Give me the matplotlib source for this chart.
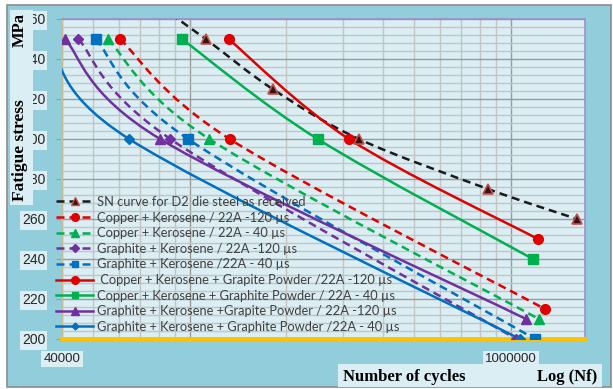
import numpy as np
import matplotlib
matplotlib.use('Agg')
import matplotlib.pyplot as plt
from matplotlib.path import Path
from matplotlib.patches import PathPatch, Rectangle
from matplotlib.lines import Line2D

# cycles to failure (Nf) and fatigue stress (MPa) for each condition
sn_cycles = [75000, 112000, 181000, 336000, 848000, 1605000]
sn_stress = [370, 350, 325, 300, 275, 260]

cuk120_cycles = [60600, 133000, 1276000]
cuk120_stress = [350, 300, 215]
cuk40_cycles = [55600, 115000, 1222000]
cuk40_stress = [350, 300, 210]
grk120_cycles = [45000, 87000, 1040000]
grk120_stress = [350, 300, 200]
grk40_cycles = [51000, 98700, 1188000]
grk40_stress = [350, 300, 200]
cukp120_cycles = [132000, 313000, 1213000]
cukp120_stress = [350, 300, 250]
cukp40_cycles = [94500, 250000, 1171000]
cukp40_stress = [350, 300, 240]
grkp120_cycles = [40860, 80800, 1114000]
grkp120_stress = [350, 300, 210]
grkp40_cycles = [36500, 64700, 1066000]
grkp40_stress = [350, 300, 200]

labels = [
    'SN curve for D2 die steel as received',
    'Copper + Kerosene / 22A -120 \u00b5s',
    'Copper + Kerosene / 22A - 40 \u00b5s',
    'Graphite + Kerosene / 22A -120 \u00b5s',
    'Graphite + Kerosene /22A - 40 \u00b5s',
    ' Copper + Kerosene + Grapite Powder /22A -120 \u00b5s',
    'Copper + Kerosene + Graphite Powder / 22A - 40 \u00b5s',
    'Graphite + Kerosene +Grapite Powder / 22A -120 \u00b5s',
    'Graphite + Kerosene + Graphite Powder /22A - 40 \u00b5s',
]

RED = '#E00000'
GREEN = '#00B050'
PURPLE = '#7030A0'
BLUE = '#0070C0'

# (x, y, colour, dashed, marker, markersize)
series = [
    (sn_cycles, sn_stress, '#1a1a1a', True, '^', 6.5),
    (cuk120_cycles, cuk120_stress, RED, True, 'o', 7),
    (cuk40_cycles, cuk40_stress, GREEN, True, '^', 7.5),
    (grk120_cycles, grk120_stress, PURPLE, True, 'D', 5.5),
    (grk40_cycles, grk40_stress, BLUE, True, 's', 6.5),
    (cukp120_cycles, cukp120_stress, RED, False, 'o', 7),
    (cukp40_cycles, cukp40_stress, GREEN, False, 's', 6.5),
    (grkp120_cycles, grkp120_stress, PURPLE, False, '^', 7.5),
    (grkp40_cycles, grkp40_stress, BLUE, False, 'D', 5),
]

LW = 1.8
DASH = (0, (3.2, 2.0))


def smooth_path(xs, ys):
    # Catmull-Rom style bezier through the points, built in log10(x) space
    lx = np.log10(np.asarray(xs, float))
    y = np.asarray(ys, float)
    pts = np.column_stack([lx, y])
    n = len(pts)
    verts = [pts[0]]
    codes = [Path.MOVETO]
    for i in range(n - 1):
        p0 = pts[max(i - 1, 0)]
        p1 = pts[i]
        p2 = pts[i + 1]
        p3 = pts[min(i + 2, n - 1)]
        c1 = p1 + (p2 - p0) / 6.0
        c2 = p2 - (p3 - p1) / 6.0
        verts += [c1, c2, p2]
        codes += [Path.CURVE4] * 3
    verts = np.array(verts)
    verts[:, 0] = 10 ** verts[:, 0]
    return Path(verts, codes)


fig = plt.figure(figsize=(6.13, 3.89), dpi=100)
fig.patch.set_facecolor('white')
W, H = 613.0, 389.0

# chart frame
fig.patches.append(Rectangle((7 / W, 1 - 387 / H), 604 / W, 382 / H,
                             transform=fig.transFigure, facecolor='#92CDDC',
                             edgecolor='#8c8c8c', linewidth=1.2, zorder=-1))

ax = fig.add_axes([62 / W, 1 - 339 / H, 523 / W, 320 / H])
ax.set_zorder(1)
ax.set_facecolor('#DAEEF3')
ax.set_xscale('log')
ax.set_xlim(40000, 1.70e6)
ax.set_ylim(200, 360)

for xs, ys, col, dashed, mk, ms in series:
    ls = DASH if dashed else '-'
    patch = PathPatch(smooth_path(xs, ys), facecolor='none', edgecolor=col,
                      linewidth=LW, linestyle=ls, zorder=3,
                      capstyle='butt', joinstyle='round')
    ax.add_patch(patch)
    if col == '#1a1a1a':
        ax.plot(xs, ys, linestyle='none', marker=mk, markersize=ms,
                markerfacecolor='#3a1010', markeredgecolor='#C0504D',
                markeredgewidth=1.2, zorder=4)
    else:
        ax.plot(xs, ys, linestyle='none', marker=mk, markersize=ms,
                color=col, zorder=4)

# grid
ax.set_yticks(np.arange(200, 361, 20))
ax.set_yticks(np.arange(200, 361, 4), minor=True)
ax.set_xticks([40000, 100000, 1000000])
ax.set_xticklabels(['40000', '', '1000000'])
minor_x = [m * 10 ** e for e in (4, 5) for m in range(2, 10)]
ax.set_xticks([v for v in minor_x if v > 40000], minor=True)
ax.xaxis.set_minor_formatter(matplotlib.ticker.NullFormatter())
ax.grid(True, which='major', color='#9a9a9a', linewidth=1.0, zorder=1)
ax.grid(True, which='minor', color='#c4c4c4', linewidth=1.0, zorder=1)
ax.set_axisbelow(True)

ax.tick_params(axis='both', which='minor', length=0)
ax.tick_params(axis='y', which='major', direction='out', length=4,
               color='#9a9a9a', pad=8, labelsize=10, labelcolor='#262626')
ax.tick_params(axis='x', which='major', direction='out', length=0,
               pad=10, labelsize=9.5, labelcolor='#262626')
for lab in ax.get_xticklabels() + ax.get_yticklabels():
    lab.set_fontfamily('Liberation Sans')
    lab.set_bbox(dict(facecolor='#DAEEF3', edgecolor='none', pad=1.5))

ax.spines['bottom'].set_color('#FFC000')
ax.spines['bottom'].set_linewidth(3.5)
ax.spines['left'].set_color('#C4BD97')
ax.spines['left'].set_linewidth(1.5)
ax.spines['top'].set_color('#9C8FD0')
ax.spines['right'].set_color('#9C8FD0')
ax.spines['top'].set_linewidth(1.2)
ax.spines['right'].set_linewidth(1.2)

# legend
handles = []
for (xs, ys, col, dashed, mk, ms), lab in zip(series, labels):
    if col == '#1a1a1a':
        h = Line2D([], [], color=col, linewidth=LW, linestyle=DASH, marker=mk,
                   markersize=ms - 1, markerfacecolor='#3a1010',
                   markeredgecolor='#C0504D')
    else:
        h = Line2D([], [], color=col, linewidth=LW,
                   linestyle=DASH if dashed else '-', marker=mk,
                   markersize=ms - 1.5)
    handles.append(h)
leg = ax.legend(handles, labels, loc='upper left',
                bbox_to_anchor=(56 / W, 1 - 196 / H),
                bbox_transform=fig.transFigure, frameon=False,
                prop={'family': 'Lato', 'size': 9.3}, handlelength=2.9,
                handletextpad=0.3, labelspacing=0.28, borderpad=0,
                borderaxespad=0, numpoints=1)
for t in leg.get_texts():
    t.set_color('#404040')
leg.set_zorder(5)

# axis titles on light panels
fig.patches.append(Rectangle((10 / W, 1 - 205 / H), 23 / W, 195 / H,
                             transform=fig.transFigure, facecolor='#DAEEF3',
                             edgecolor='none', zorder=5))
fig.text(20 / W, 1 - 30 / H, 'MPa', rotation=90, ha='center', va='center',
         family='Liberation Serif', weight='bold', size=12, zorder=6)
fig.text(20 / W, 1 - 150 / H, 'Fatigue stress', rotation=90, ha='center',
         va='center', family='Liberation Serif', weight='bold', size=12.5,
         zorder=6)

fig.patches.append(Rectangle((338 / W, 1 - 387 / H), 264 / W, 23 / H,
                             transform=fig.transFigure, facecolor='#DAEEF3',
                             edgecolor='none', zorder=5))
fig.text(343 / W, 1 - 377 / H, 'Number of cycles', ha='left', va='center',
         family='Liberation Serif', weight='bold', size=12, zorder=6)
fig.text(597 / W, 1 - 377 / H, 'Log (Nf)', ha='right', va='center',
         family='Liberation Serif', weight='bold', size=12, zorder=6)

fig.savefig('out.png', dpi=100, facecolor='white')
